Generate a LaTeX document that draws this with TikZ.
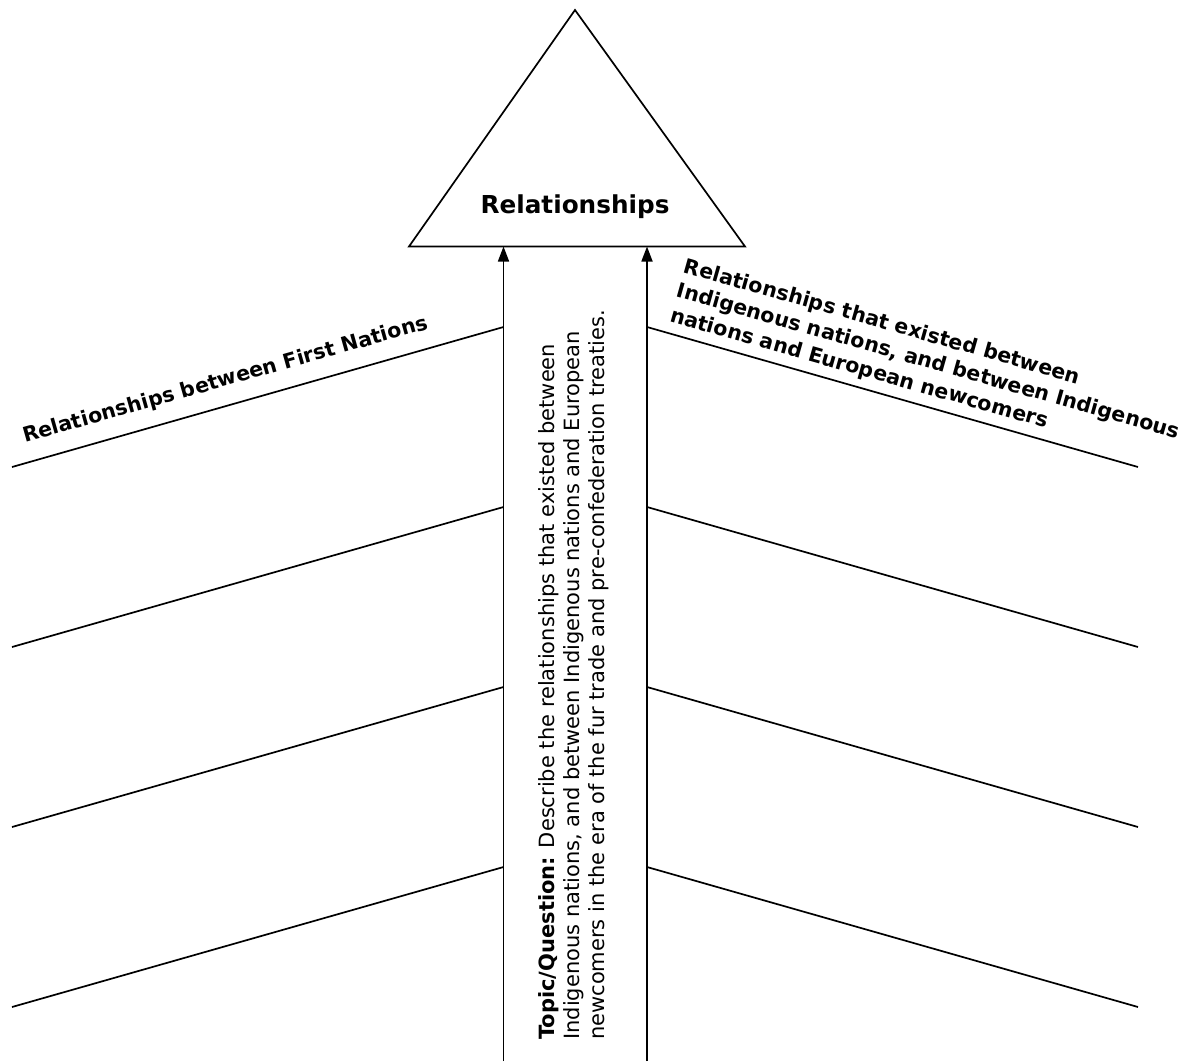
\documentclass[tikz,border=0pt]{standalone}
\usepackage{fontspec}
\setmainfont{DejaVu Sans}
\usetikzlibrary{arrows.meta}

\tikzset{
  ink/.style={line width=1.7pt, black},
  spine/.style={ink, -{Triangle[length=15pt,width=11pt]}},
  rib/.style={ink},
  headbox/.style={ink, line join=miter},
  titletext/.style={font=\bfseries\fontsize{24.7}{30}\selectfont, inner sep=0pt},
  ribtext/.style={font=\bfseries\fontsize{20.5}{25.5}\selectfont, inner sep=0pt, align=left},
  questiontext/.style={font=\fontsize{21}{25}\selectfont, inner sep=0pt, align=left},
}

\begin{document}
\begin{tikzpicture}[x=1pt, y=-1pt]
  \useasboundingbox (0,0) rectangle (1196,1061);

  % head of the fishbone
  \coordinate (apex) at (575,10);
  \coordinate (baseL) at (409,246.5);
  \coordinate (baseR) at (745,246.5);
  \draw[headbox] (apex) -- (baseL) -- (baseR) -- cycle;
  \node[titletext, anchor=base] (title) at (575,213) {Relationships};

  % two spines pointing at the head
  \coordinate (spineLbot) at (503.5,1061);
  \coordinate (spineLtop) at (503.5,246.5);
  \coordinate (spineRbot) at (647,1061);
  \coordinate (spineRtop) at (647,246.5);
  \draw[spine] (spineLbot) -- (spineLtop);
  \draw[spine] (spineRbot) -- (spineRtop);

  % ribs on both sides
  \foreach \k in {0,1,2,3} {
    \coordinate (ribLout\k) at (12,{467+180*\k});
    \coordinate (ribLin\k)  at (503.5,{327+180*\k});
    \coordinate (ribRin\k)  at (647,{327+180*\k});
    \coordinate (ribRout\k) at (1138,{467+180*\k});
    \draw[rib] (ribLout\k) -- (ribLin\k);
    \draw[rib] (ribRin\k) -- (ribRout\k);
  }

  % rib labels
  \node[ribtext, anchor=base west, rotate=15.8] (leftlabel) at (25,443)
    {Relationships between First Nations};
  \node[ribtext, anchor=north west, rotate=-15.8] (rightlabel) at (687,257)
    {Relationships that existed between\\
     Indigenous nations, and between Indigenous\\
     nations and European newcomers};

  % question written along the spine
  \node[questiontext, anchor=north west, rotate=90] (question) at (538.5,1040)
    {\textbf{Topic/Question:} Describe the relationships that existed between\\
     Indigenous nations, and between Indigenous nations and European\\
     newcomers in the era of the fur trade and pre-confederation treaties.};
\end{tikzpicture}
\end{document}
